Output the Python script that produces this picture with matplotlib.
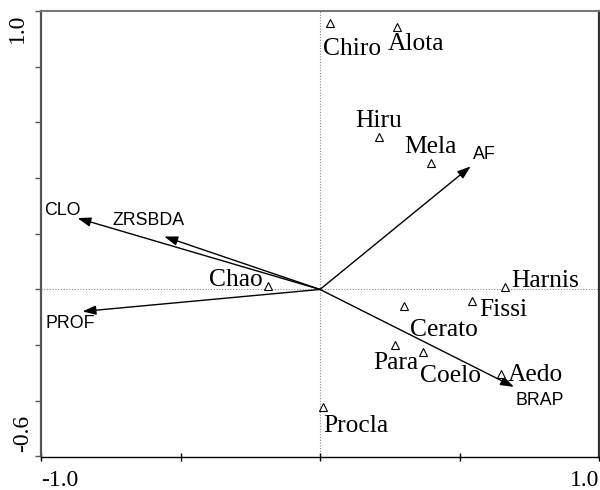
import matplotlib
matplotlib.use("Agg")
import matplotlib.pyplot as plt

# species scores (triangles)
species = ['Chiro', 'Alota', 'Hiru', 'Mela', 'Chao', 'Harnis',
           'Fissi', 'Cerato', 'Para', 'Coelo', 'Aedo', 'Procla']
sp_x = [0.036, 0.276, 0.213, 0.398, -0.188, 0.662,
        0.546, 0.302, 0.270, 0.368, 0.647, 0.010]
sp_y = [0.956, 0.944, 0.549, 0.454, 0.011, 0.007,
        -0.043, -0.058, -0.198, -0.223, -0.305, -0.424]

# environmental variables (arrows from origin)
env = ['AF', 'CLO', 'ZRSBDA', 'PROF', 'BRAP']
env_x = [0.540, -0.869, -0.558, -0.851, 0.695]
env_y = [0.442, 0.256, 0.190, -0.079, -0.350]

# label placement in pixels (dx, dy) from each mark
sp_off = {'Chiro': (-7, -32), 'Alota': (-9, -23), 'Hiru': (-24, 10),
          'Mela': (-27, 10), 'Chao': (-5, 0), 'Harnis': (7, 0),
          'Fissi': (7, -15), 'Cerato': (6, -30), 'Para': (-22, -24),
          'Coelo': (-3, -30), 'Aedo': (7, -7), 'Procla': (0, -25)}
env_off = {'AF': (2, 7), 'CLO': (-33, 3), 'ZRSBDA': (-52, 12),
           'PROF': (-37, -17), 'BRAP': (2, -18)}

dpi = 100
px = 72 / dpi
serif = ['Liberation Serif', 'DejaVu Serif']
sans = ['Liberation Sans', 'DejaVu Sans']

fig = plt.figure(figsize=(6, 4.9), dpi=dpi)
ax = fig.add_axes([41 / 600, 1 - 456.5 / 490, 558 / 600, 445.5 / 490])
ax.set_xlim(-1.0, 1.0)
ax.set_ylim(-0.6, 1.0)

ax.axhline(0, color='#888888', lw=0.8, ls=(0, (1, 1.5)), zorder=1)
ax.axvline(0, color='#888888', lw=0.8, ls=(0, (1, 1.5)), zorder=1)

for name, x, y in zip(env, env_x, env_y):
    ax.annotate('', xy=(x, y), xytext=(0, 0),
                arrowprops=dict(arrowstyle='-|>,head_length=0.8,head_width=0.28',
                                color='black', lw=1.0, shrinkA=0, shrinkB=0))
    dx, dy = env_off[name]
    ax.annotate(name, (x, y), xytext=(dx * px, dy * px), textcoords='offset points',
                ha='left', va='baseline', fontsize=12.8, family=sans)

ax.plot(sp_x, sp_y, ls='none', marker='^', ms=6, mfc='white', mec='black',
        mew=0.8, zorder=3)
for name, x, y in zip(species, sp_x, sp_y):
    dx, dy = sp_off[name]
    ha = 'right' if name == 'Chao' else 'left'
    ax.annotate(name, (x, y), xytext=(dx * px, dy * px), textcoords='offset points',
                ha=ha, va='baseline', fontsize=18.4, family=serif)

# frame
ax.spines['left'].set_color('#555555')
ax.spines['left'].set_linewidth(1.6)
ax.spines['right'].set_color('#333333')
ax.spines['right'].set_linewidth(1.6)
ax.spines['top'].set_color('#777777')
ax.spines['top'].set_linewidth(1.5)
ax.spines['bottom'].set_color('black')
ax.spines['bottom'].set_linewidth(1.0)

ax.set_xticks([-1.0, -0.5, 0, 0.5, 1.0])
ax.set_yticks([-0.6, -0.4, -0.2, 0, 0.2, 0.4, 0.6, 0.8, 1.0])
ax.tick_params(axis='x', direction='inout', length=6, width=1, labelbottom=False)
ax.tick_params(axis='y', direction='out', length=4, width=1, color='#555555',
               labelleft=False)

# end labels only
ax.text(0, -29 / 445.5, '-1.0', transform=ax.transAxes, ha='left', va='baseline',
        fontsize=17, family=serif)
ax.text(1, -29 / 445.5, '1.0', transform=ax.transAxes, ha='right', va='baseline',
        fontsize=17, family=serif)
ax.text(-0.043, 1 - 3 / 445.5, '1.0', transform=ax.transAxes, rotation=90,
        ha='center', va='top', fontsize=17, family=serif)
ax.text(-0.033, 4.5 / 445.5, '-0.6', transform=ax.transAxes, rotation=90,
        ha='center', va='bottom', fontsize=17, family=serif)

fig.savefig('out.png', dpi=dpi)
